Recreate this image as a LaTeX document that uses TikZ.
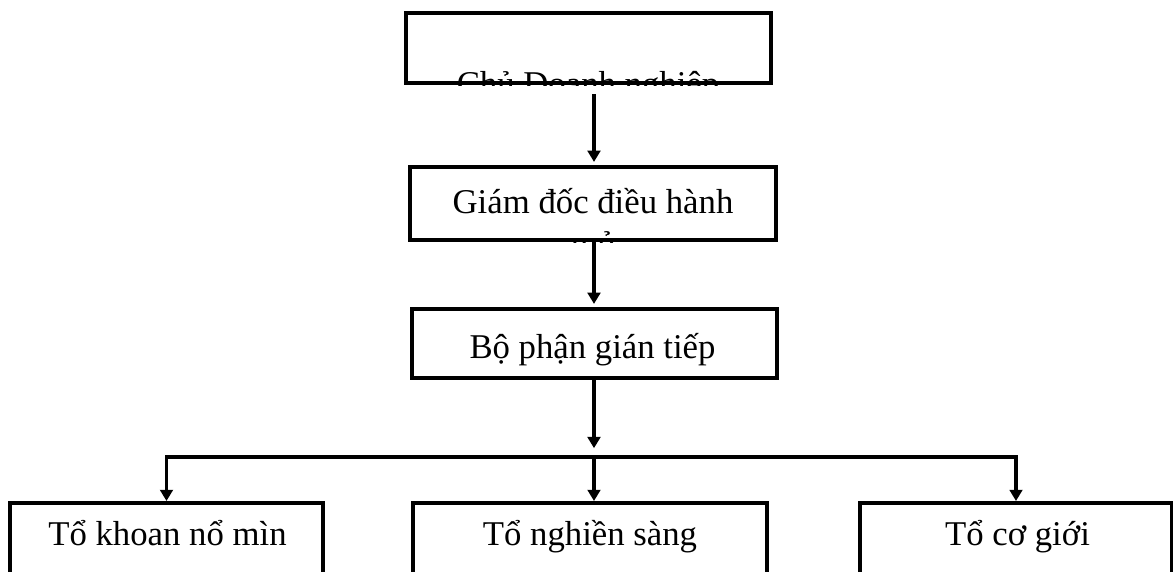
\documentclass[tikz,border=0pt]{standalone}
\usepackage{fontspec}
\setmainfont{Liberation Serif}
\usetikzlibrary{arrows.meta}

\tikzset{
  hop/.style={draw, line width=3.2pt, inner sep=0pt},
  nhom/.style={draw, line width=2.8pt, inner sep=0pt, minimum height=2.5cm},
  chu/.style={anchor=base, inner sep=0pt, align=center},
  mui/.style={line width=2.6pt, -{Triangle[length=8pt,width=9pt]}},
}

\begin{document}
\begin{tikzpicture}[x=0.025cm, y=-0.025cm,
  font=\fontsize{24.7pt}{29.8pt}\selectfont]
	\useasboundingbox (0,0) rectangle (1173,572);
	\clip (0,0) rectangle (1173,572);
	%% khung
	\node[hop, minimum width=9.125cm, minimum height=1.75cm] (cdn) at (588.5,48) {};
	\node[hop, minimum width=9.15cm, minimum height=1.825cm] (gd) at (593,203.5) {};
	\node[hop, minimum width=9.125cm, minimum height=1.725cm] (bp) at (594.5,343.5) {};
	\node[nhom, minimum width=7.825cm] (kn) at (166.5,553) {};
	\node[nhom, minimum width=8.85cm] (ns) at (590,553) {};
	\node[nhom, minimum width=7.8cm] (cg) at (1016,553) {};
	%% chu trong khung (bi cat o duoi)
	\begin{scope}
		\clip (cdn.south west) rectangle (cdn.north east);
		\node[chu] (tcdn) at (588,95) {Chủ Doanh nghiệp};
	\end{scope}
	\begin{scope}
		\clip (gd.south west) rectangle (gd.north east);
		\node[chu] (tgd) at (593,255) {Giám đốc điều hành\\mỏ};
	\end{scope}
	\node[chu] (tbp) at (592.5,358) {Bộ phận gián tiếp};
	\node[chu] (tkn) at (167.5,545) {Tổ khoan nổ mìn};
	\node[chu] (tns) at (590,545) {Tổ nghiền sàng};
	\node[chu] (tcg) at (1017.5,545) {Tổ cơ giới};
	%% mui ten
	\coordinate (bus) at (594,457);
	\draw[mui, shorten <=0.22cm, shorten >=2pt] (bus |- cdn.south) -- (bus |- gd.north);
	\draw[mui, shorten >=2pt] (bus |- gd.south) -- (bus |- bp.north);
	\draw[mui, shorten >=0.22cm] (bus |- bp.south) -- (bus);
	\draw[mui] (bus) -| (kn.north);
	\draw[mui] (bus) -| (cg.north);
	\draw[mui] (bus) -- (bus |- ns.north);
\end{tikzpicture}
\end{document}
